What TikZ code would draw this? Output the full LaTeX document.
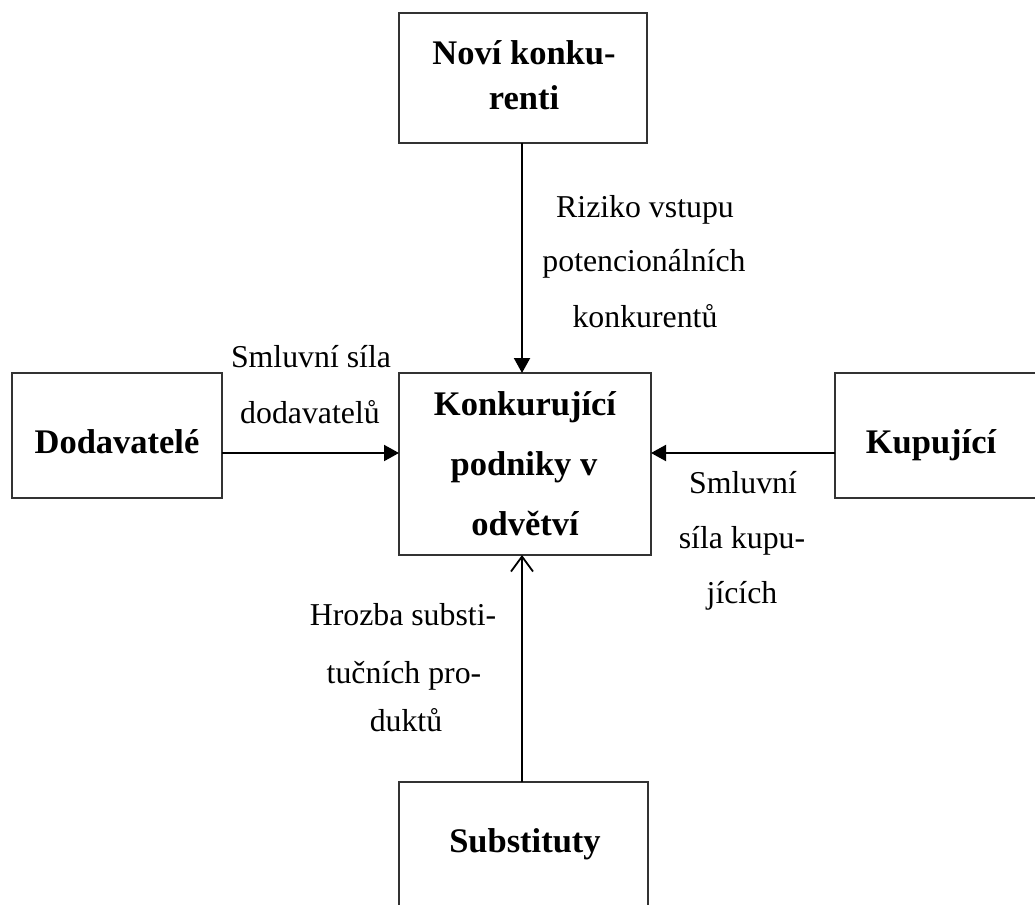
\documentclass[tikz,border=0pt]{standalone}
\usepackage{fontspec}
\setmainfont{Liberation Serif}
\usetikzlibrary{arrows.meta}
\begin{document}
\begin{tikzpicture}[x=1pt,y=-1pt,
  boxnode/.style={draw=black!80,line width=1.3pt,inner sep=0pt,outer sep=0pt},
  boldtxt/.style={font=\fontsize{34.5}{40}\selectfont\bfseries,inner sep=0pt,anchor=base},
  labtxt/.style={font=\fontsize{31.8}{38}\selectfont,inner sep=0pt,anchor=base},
  fillarr/.style={line width=2pt,-{Triangle[length=15pt,width=16pt]}},
  openarr/.style={line width=1.8pt,-{Straight Barb[length=15pt,width=22pt,line width=1.8pt]}}]
\useasboundingbox (0,0) rectangle (1035,904);
% boxes
\node[boxnode,minimum width=248pt,minimum height=130pt] (top) at (523,78) {};
\node[boxnode,minimum width=252pt,minimum height=182pt] (ctr) at (525,464) {};
\node[boxnode,minimum width=210pt,minimum height=125pt] (lft) at (117,435.5) {};
\node[boxnode,minimum width=210pt,minimum height=125pt] (rgt) at (940,435.5) {};
\node[boxnode,minimum width=249pt,minimum height=140pt] (bot) at (523.5,852) {};
% box texts
\node[boldtxt] (t1) at (524,65) {Noví konku-};
\node[boldtxt] (t2) at (524,110) {renti};
\node[boldtxt] (c1) at (525,415) {Konkurující};
\node[boldtxt] (c2) at (524,475) {podniky v};
\node[boldtxt] (c3) at (525,535) {odvětví};
\node[boldtxt] (l1) at (117,453) {Dodavatelé};
\node[boldtxt] (r1) at (931,453) {Kupující};
\node[boldtxt] (b1) at (525,852) {Substituty};
% labels
\node[labtxt] (n1) at (645,217) {Riziko vstupu};
\node[labtxt] (n2) at (644,271) {potencionálních};
\node[labtxt] (n3) at (645,327) {konkurentů};
\node[labtxt] (d1) at (311,367) {Smluvní síla};
\node[labtxt] (d2) at (310,423) {dodavatelů};
\node[labtxt] (k1) at (743,493) {Smluvní};
\node[labtxt] (k2) at (742,548) {síla kupu-};
\node[labtxt] (k3) at (742,603) {jících};
\node[labtxt] (s1) at (403,625) {Hrozba substi-};
\node[labtxt] (s2) at (404,683) {tučních pro-};
\node[labtxt] (s3) at (406,731) {duktů};
% connectors
\coordinate (hy) at (0,453);
\coordinate (vx) at (522,0);
\draw[fillarr] (top.south -| vx) -- (ctr.north -| vx);
\draw[fillarr] (lft.east |- hy) -- (ctr.west |- hy);
\draw[fillarr] (rgt.west |- hy) -- (ctr.east |- hy);
\draw[openarr] (bot.north -| vx) -- (ctr.south -| vx);
\end{tikzpicture}
\end{document}
